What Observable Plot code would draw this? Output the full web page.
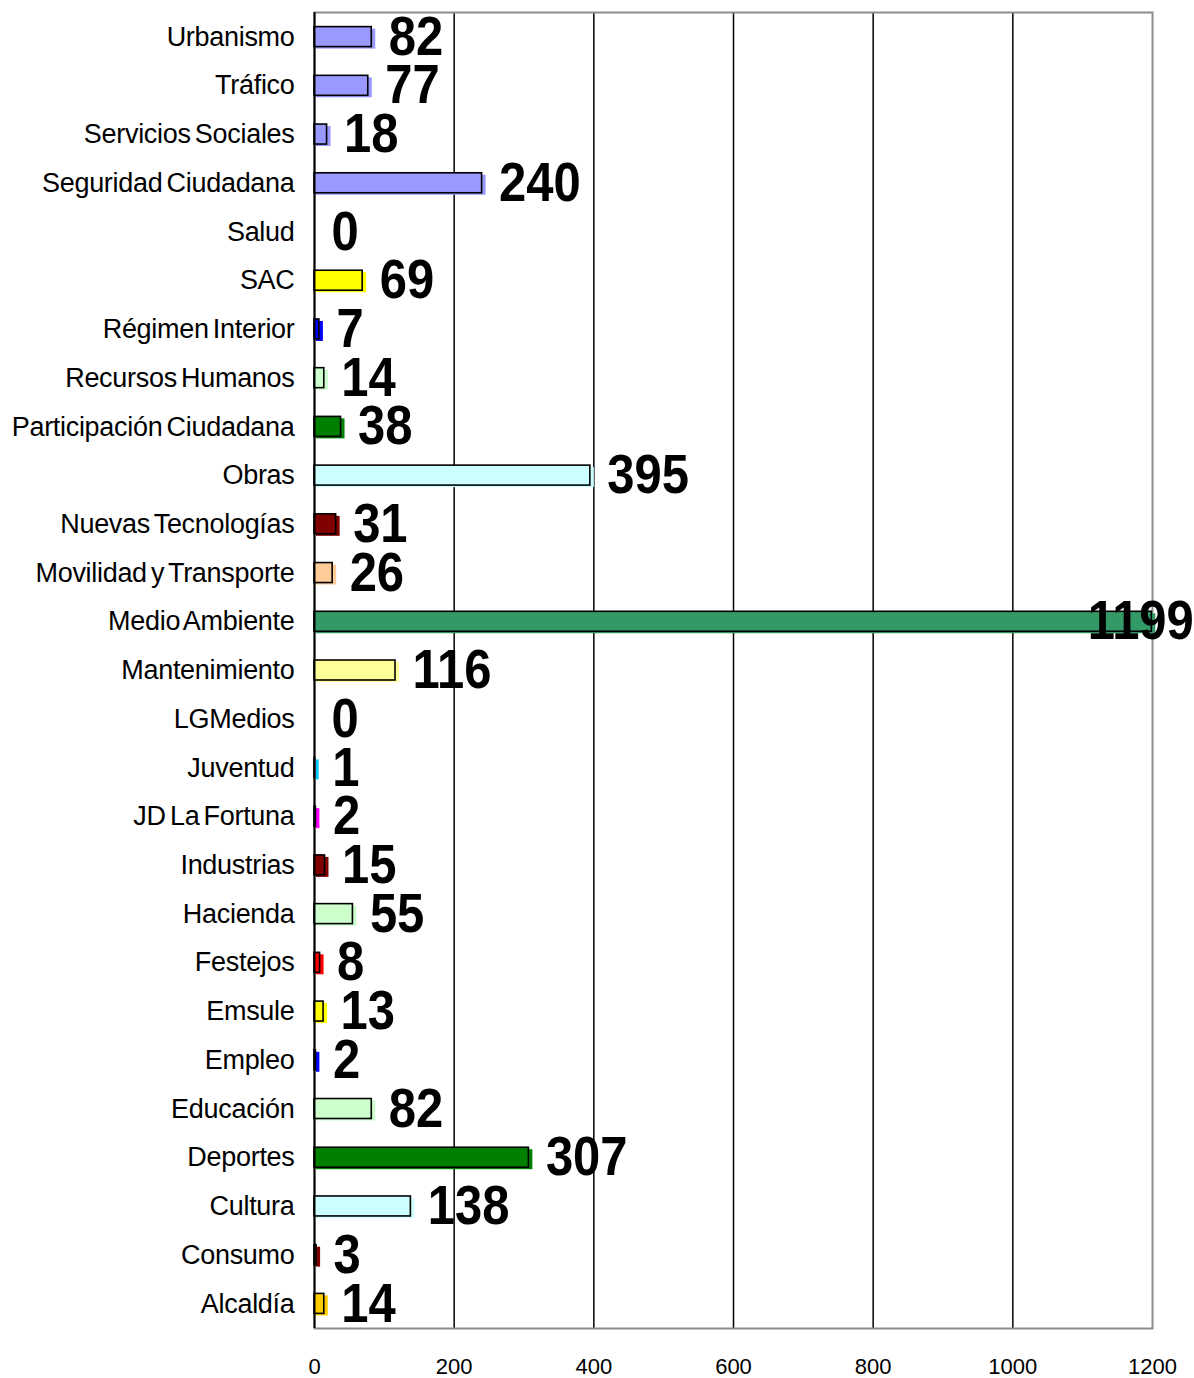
<!DOCTYPE html>
<html>
<head>
<meta charset="utf-8">
<script src="https://cdn.jsdelivr.net/npm/d3@7"></script>
<script src="https://cdn.jsdelivr.net/npm/@observablehq/plot@0.6"></script>
<style>
  html, body { margin: 0; padding: 0; background: white; }
</style>
</head>
<body>
<div id="chart"></div>
<script>
const categories = ["Urbanismo","Tráfico","Servicios Sociales","Seguridad Ciudadana","Salud","SAC","Régimen Interior","Recursos Humanos","Participación Ciudadana","Obras","Nuevas Tecnologías","Movilidad y Transporte","Medio Ambiente","Mantenimiento","LGMedios","Juventud","JD La Fortuna","Industrias","Hacienda","Festejos","Emsule","Empleo","Educación","Deportes","Cultura","Consumo","Alcaldía"];
const values = [82,77,18,240,0,69,7,14,38,395,31,26,1199,116,0,1,2,15,55,8,13,2,82,307,138,3,14];
const colors = ["#9999FF","#9999FF","#9999FF","#9999FF","#9999FF","#FFFF00","#0000FF","#CCFFCC","#008000","#CCFFFF","#800000","#FFCC99","#339966","#FFFF99","#FFFFFF","#00CCFF","#FF00FF","#800000","#CCFFCC","#FF0000","#FFFF00","#0000FF","#CCFFCC","#008000","#CCFFFF","#800000","#FFCC00"];
const xTicks = [0,200,400,600,800,1000,1200];
const gridTicks = [200,400,600,800,1000];

const data = categories.map((c, i) => ({category: c, value: values[i], color: colors[i]}));
const bars = data.filter(d => d.value > 0);

const chart = Plot.plot({
  width: 1194,
  height: 1378,
  marginLeft: 314,
  marginRight: 42,
  marginTop: 12,
  marginBottom: 50,
  style: {fontFamily: "'Liberation Sans', Arial, sans-serif", background: "white", color: "black"},
  x: {domain: [0, 1200], axis: null},
  y: {domain: categories, paddingInner: 0.59, paddingOuter: 0.3, round: false, axis: null},
  marks: [
    Plot.ruleX(gridTicks, {stroke: "black", strokeWidth: 1.5}),
    Plot.frame({stroke: "#8c8c8c", strokeWidth: 2}),
    Plot.barX(bars, {x: "value", y: "category", fill: "color", dx: 2, dy: 2, insetRight: -2}),
    Plot.barX(bars, {x: "value", y: "category", fill: "color", stroke: "black", strokeWidth: 1.6}),
    Plot.ruleX([0], {stroke: "black", strokeWidth: 2}),
    Plot.axisX({ticks: xTicks, tickSize: 0, tickPadding: 30, fontSize: 22, tickFormat: d3.format("d"), label: null}),
    Plot.text(categories, {x: 0, y: d => d, text: d => d, textAnchor: "end", dx: -20, fontSize: 27}),
    Plot.text(data.filter(d => d.value < 1000), {x: "value", y: "category", text: d => String(d.value), dx: 17, textAnchor: "start", fontSize: 55, fontWeight: "bold"}),
    Plot.text(data.filter(d => d.value >= 1000), {x: "value", y: "category", text: d => String(d.value), dx: 42, textAnchor: "end", fontSize: 55, fontWeight: "bold"})
  ]
});
// narrow the big bold value labels horizontally (condensed look of the reference)
d3.select(chart).selectAll('g[font-size="55"] text').each(function() {
  const t = d3.select(this);
  let tr = t.attr("transform");
  if (!tr) {
    const x = +t.attr("x") || 0, y = +t.attr("y") || 0;
    t.attr("x", null).attr("y", null);
    tr = `translate(${x},${y})`;
  }
  t.attr("transform", tr + " scale(0.89,1)");
});
d3.select(chart).selectAll('g[font-size="27"]').attr("letter-spacing", "-0.3px").attr("word-spacing", "-3px");
document.getElementById("chart").appendChild(chart);
</script>
</body>
</html>
